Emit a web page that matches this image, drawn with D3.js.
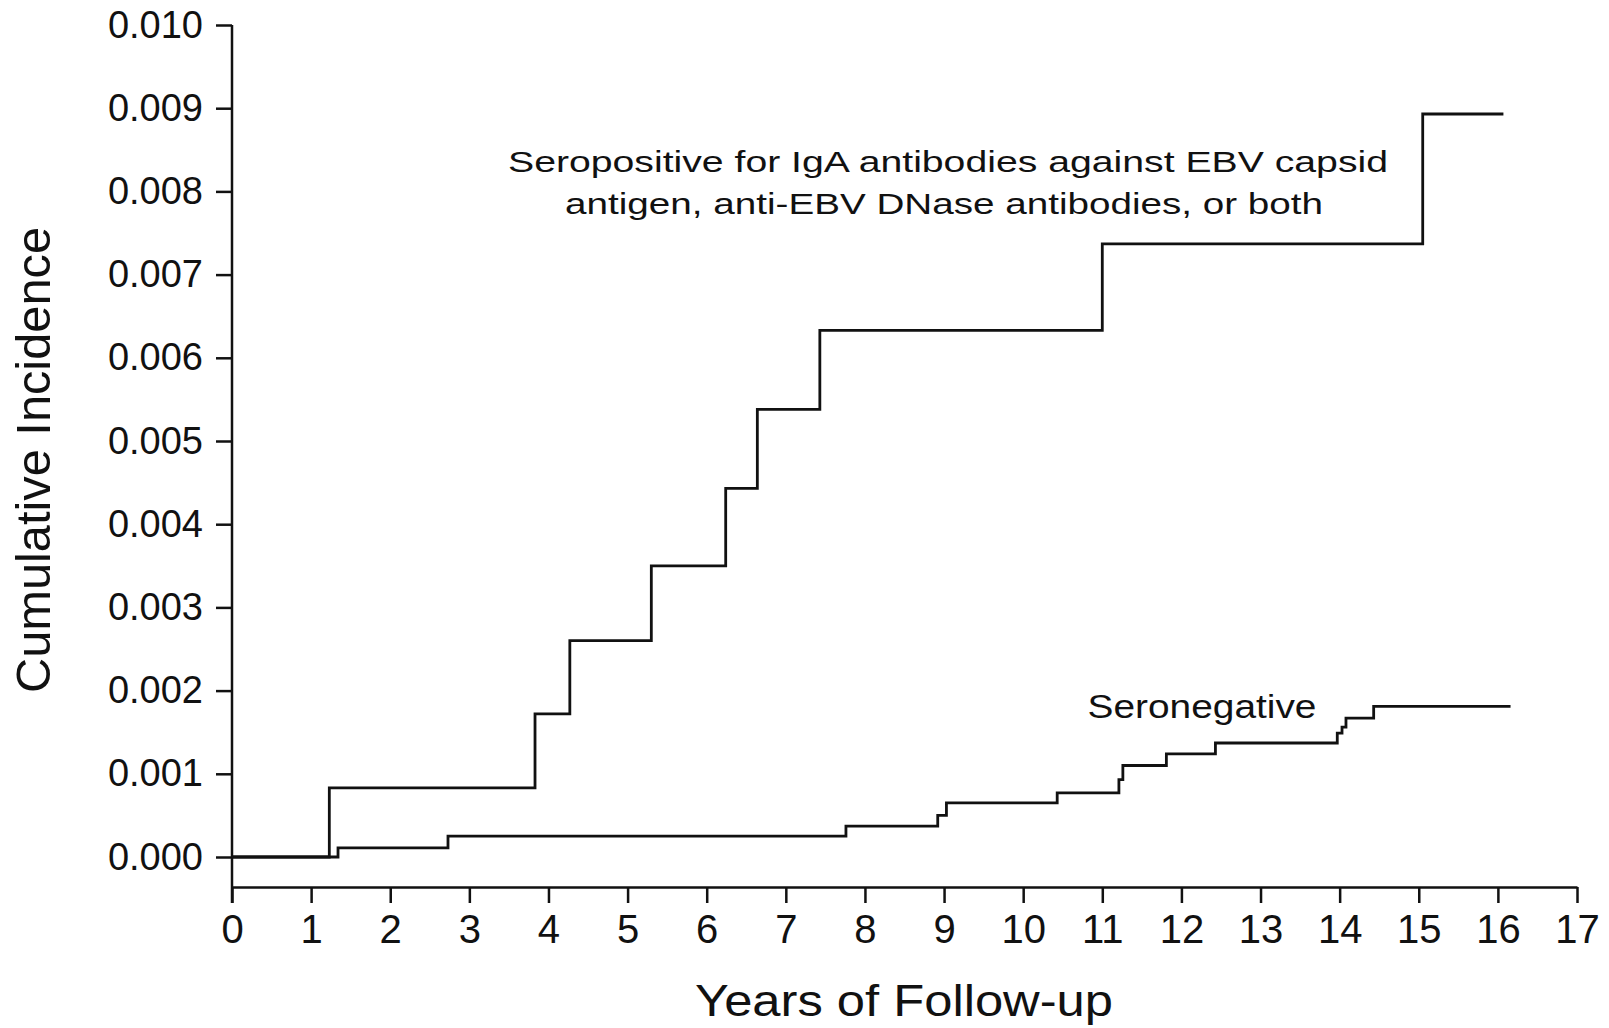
<!DOCTYPE html>
<html>
<head>
<meta charset="utf-8">
<script src="https://cdn.jsdelivr.net/npm/d3@7"></script>
<style>
  body { margin: 0; background: #fff; }
  text { font-family: "Liberation Sans", Arial, Helvetica, sans-serif; fill: #111; }
</style>
</head>
<body>
<div id="chart"></div>
<script>
// step points: year of event, cumulative incidence after it (last point = end of follow-up)
var posYears = [0, 1.23, 3.83, 4.27, 5.3, 6.24, 6.64, 7.43, 11.0, 15.05, 16.07];
var posIncidence = [0, 0.00083, 0.00172, 0.0026, 0.0035, 0.00443, 0.00538, 0.00633, 0.00737, 0.00893, 0.00893];

var negYears = [0, 1.34, 2.73, 7.76, 8.92, 9.03, 10.43, 11.21, 11.26, 11.81, 12.43, 13.97, 14.03, 14.08, 14.43, 16.16];
var negIncidence = [0, 0.00011, 0.00025, 0.00037, 0.0005, 0.00065, 0.00077, 0.00093, 0.00110, 0.00124, 0.00137, 0.00149, 0.00156, 0.00167, 0.00181, 0.00181];

var xTicks = d3.range(0, 18);
var yTicks = d3.range(0, 0.0105, 0.001);

var w = 1609,
  h = 1028;

var svg = d3
  .select("#chart")
  .append("svg")
  .attr("width", w)
  .attr("height", h);

var x = d3.scaleLinear().domain([0, 17]).range([232, 1577]);
var y = d3.scaleLinear().domain([0, 0.01]).range([857, 25]);
var axisY = 887;

// x axis
var gx = svg
  .append("g")
  .attr("transform", `translate(0, ${axisY})`)
  .call(
    d3.axisBottom(x)
      .tickValues(xTicks)
      .tickFormat(d3.format("d"))
      .tickSize(16)
      .tickSizeOuter(0)
      .tickPadding(12)
  );
gx.selectAll("text").attr("font-size", 40).attr("fill", "#111");

// y axis
var gy = svg
  .append("g")
  .attr("transform", `translate(${x(0)}, 0)`)
  .call(
    d3.axisLeft(y)
      .tickValues(yTicks)
      .tickFormat(d3.format(".3f"))
      .tickSize(16)
      .tickPadding(13)
  );
gy.select(".domain").remove();
gy.selectAll("text").attr("font-size", 38).attr("fill", "#111");

svg
  .append("line")
  .attr("x1", x(0))
  .attr("x2", x(0))
  .attr("y1", y(0.01))
  .attr("y2", axisY + 16)
  .attr("stroke", "#111");

svg.selectAll(".domain, .tick line, line").attr("stroke", "#111").attr("stroke-width", 2.5);

// curves
var line = d3
  .line()
  .x((d) => x(d[0]))
  .y((d) => y(d[1]))
  .curve(d3.curveStepAfter);

svg
  .append("path")
  .datum(d3.zip(negYears, negIncidence))
  .attr("fill", "none")
  .attr("stroke", "#111")
  .attr("stroke-width", 2.8)
  .attr("d", line);

svg
  .append("path")
  .datum(d3.zip(posYears, posIncidence))
  .attr("fill", "none")
  .attr("stroke", "#111")
  .attr("stroke-width", 2.8)
  .attr("d", line);

// labels on the curves
svg
  .append("text")
  .attr("x", x(9.05))
  .attr("y", 172)
  .attr("text-anchor", "middle")
  .attr("font-size", 29)
  .attr("textLength", 880)
  .attr("lengthAdjust", "spacingAndGlyphs")
  .text("Seropositive for IgA antibodies against EBV capsid");

svg
  .append("text")
  .attr("x", x(9.0))
  .attr("y", 214)
  .attr("text-anchor", "middle")
  .attr("font-size", 29)
  .attr("textLength", 758)
  .attr("lengthAdjust", "spacingAndGlyphs")
  .text("antigen, anti-EBV DNase antibodies, or both");

svg
  .append("text")
  .attr("x", x(12.26))
  .attr("y", 718)
  .attr("text-anchor", "middle")
  .attr("font-size", 34)
  .attr("textLength", 229)
  .attr("lengthAdjust", "spacingAndGlyphs")
  .text("Seronegative");

// axis titles
svg
  .append("text")
  .attr("x", (695 + 1113) / 2)
  .attr("y", 1016)
  .attr("text-anchor", "middle")
  .attr("font-size", 45)
  .attr("textLength", 418)
  .attr("lengthAdjust", "spacingAndGlyphs")
  .text("Years of Follow-up");

svg
  .append("text")
  .attr("transform", "translate(50, 460) rotate(-90)")
  .attr("text-anchor", "middle")
  .attr("font-size", 48)
  .attr("textLength", 466)
  .attr("lengthAdjust", "spacingAndGlyphs")
  .text("Cumulative Incidence");
</script>
</body>
</html>
